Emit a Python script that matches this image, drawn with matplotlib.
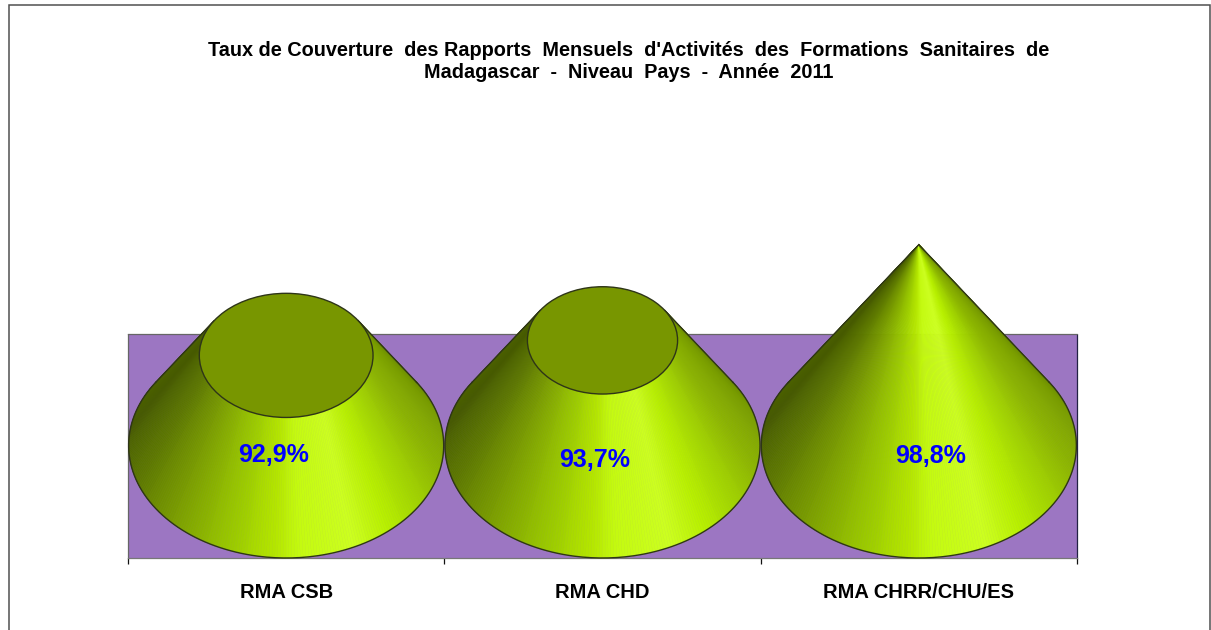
import numpy as np
import matplotlib.pyplot as plt
from matplotlib.collections import PolyCollection
from matplotlib.colors import LinearSegmentedColormap
from matplotlib.patches import Ellipse, Rectangle

categories = ['RMA CSB', 'RMA CHD', 'RMA CHRR/CHU/ES']
valeurs = [92.9, 93.7, 98.8]
etiquettes = ['92,9%', '93,7%', '98,8%']

titre = ("Taux de Couverture  des Rapports  Mensuels  d'Activités  des  Formations  Sanitaires  de\n"
         "Madagascar  -  Niveau  Pays  -  Année  2011")

L, H = 1211, 630
plt.rcParams['font.family'] = ['Liberation Sans', 'DejaVu Sans']

# Echelle de l'axe (le cone se termine en pointe au maximum)
base = 88.1
pointe = 98.8
y_bas = 82.1
y_haut = 94.04
rx = 0.498      # demi-largeur du cone en unites de categorie
ry = 6.0        # demi-hauteur de l'ellipse de base en unites de valeur

t0 = np.arcsin(ry / (pointe - base))
t_deb = np.pi - t0
t_fin = 2 * np.pi + t0


def pos(deg):
    return (np.radians(deg) - t_deb) / (t_fin - t_deb)


# couleur selon l'azimut sur le cone (en degres)
degrade = LinearSegmentedColormap.from_list('cone', [
    (0.0, '#4E6400'), (pos(170), '#465A00'), (pos(200), '#5E7A00'), (pos(225), '#7CA000'),
    (pos(250), '#9CCC00'), (pos(265), '#B4E600'), (pos(275), '#C4FA10'), (pos(295), '#CCFF20'),
    (pos(310), '#B8F000'), (pos(325), '#A4D800'), (pos(345), '#8EB800'), (pos(375), '#7A9E00'),
    (1.0, '#6C8C00')])

fig = plt.figure(figsize=(L / 100, H / 100), dpi=100, facecolor='white')
fig.add_artist(Rectangle((8.5 / L, -0.01), (1210 - 8.5) / L, (H - 5.5) / H + 0.01, transform=fig.transFigure,
                         fill=False, edgecolor='#505050', linewidth=1.1))

ax = fig.add_axes([128 / L, (H - 558) / H, (1077 - 128) / L, (558 - 334) / H])
ax.set_xlim(0, 3)
ax.set_ylim(y_bas, y_haut)
ax.set_facecolor('#9C76C2')
for s in ax.spines.values():
    s.set_color('#666666')
    s.set_linewidth(0.9)
    s.set_linestyle((0, (1, 1)))
ax.spines['right'].set_color('#222244')
ax.spines['bottom'].set_linestyle('-')
ax.spines['bottom'].set_color('#777777')

ax.set_xticks([0, 1, 2, 3])
ax.set_xticklabels([])
ax.set_xticks([0.5, 1.5, 2.5], labels=categories, minor=True)
ax.tick_params(axis='x', which='major', length=4.5, width=0.9, color='#111111')
ax.tick_params(axis='x', which='minor', length=0, pad=18, labelsize=14.5)
for t in ax.get_xticklabels(minor=True):
    t.set_fontweight('bold')
ax.set_yticks([])

contour = '#2E3518'
decalages = [(-13, -10), (-8, -15), (12, -11)]

for i, v in enumerate(valeurs):
    cx = i + 0.5
    f = (pointe - v) / (pointe - base)   # part restante du rayon en haut
    t = np.linspace(t_deb, t_fin, 241)
    bx, by = cx + rx * np.cos(t), base + ry * np.sin(t)
    hx, hy = cx + f * rx * np.cos(t), v + f * ry * np.sin(t)
    facettes = [[(bx[k], by[k]), (bx[k + 1], by[k + 1]), (hx[k + 1], hy[k + 1]), (hx[k], hy[k])]
                for k in range(len(t) - 1)]
    u = (t[:-1] - t_deb) / (t_fin - t_deb)
    pc = PolyCollection(facettes, array=u, cmap=degrade, norm=plt.Normalize(0, 1),
                        edgecolors='face', linewidths=0.4, clip_on=False, zorder=3)
    ax.add_collection(pc)
    ax.plot(bx, by, color=contour, lw=1.0, clip_on=False, zorder=4)
    ax.plot([bx[0], hx[0]], [by[0], hy[0]], color=contour, lw=1.0, clip_on=False, zorder=4)
    ax.plot([bx[-1], hx[-1]], [by[-1], hy[-1]], color=contour, lw=1.0, clip_on=False, zorder=4)
    if f > 0:
        ax.add_patch(Ellipse((cx, v), 2 * f * rx, 2 * f * ry, facecolor='#789600',
                             edgecolor=contour, linewidth=1.0, clip_on=False, zorder=5))
    ax.annotate(etiquettes[i], (cx, base), xytext=decalages[i], textcoords='offset pixels',
                ha='center', va='center', color='#0000FF', fontsize=18, fontweight='bold', zorder=6)

fig.text(629 / L, 1 - 61.5 / H, titre, ha='center', va='center', fontsize=14.3, fontweight='bold',
         linespacing=1.18, color='black')

fig.savefig('out.png', dpi=100)
